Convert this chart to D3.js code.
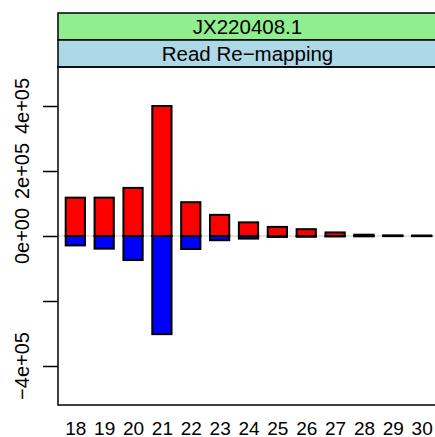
<!DOCTYPE html>
<html>
<head>
<meta charset="utf-8">
<script src="https://cdn.jsdelivr.net/npm/d3@7"></script>
<style>
  html, body { margin: 0; padding: 0; background: #fff; }
  svg { display: block; }
  text { font-family: "Liberation Sans", Arial, Helvetica, sans-serif; }
</style>
</head>
<body>
<script>
// ---- data ----
const sizes = ["18","19","20","21","22","23","24","25","26","27","28","29","30"];
const posCounts = [118000, 118000, 148000, 400000, 104000, 65000, 42000, 28000, 21000, 11000, 4000, 2000, 1500];
const negCounts = [-29000, -39000, -74000, -302000, -40000, -13000, -8000, -3000, -2500, -1500, -1000, -500, -500];
const yTicks = [-400000, -200000, 0, 200000, 400000];
const yTickLabels = ["\u22124e+05", "", "0e+00", "2e+05", "4e+05"];
const stripTop = "JX220408.1";
const stripBottom = "Read Re\u2212mapping";
const posColor = "#FF0000";
const negColor = "#0000FF";

// ---- layout ----
const W = 435, H = 437;
const panel = { left: 58, right: 439, top: 67, bottom: 405 };
const stripH = 27;

const svg = d3.select("body").append("svg").attr("width", W).attr("height", H);

const x = d3.scaleLinear().domain([0.4, sizes.length + 0.6]).range([panel.left, panel.right]);
const y = d3.scaleLinear().domain([-520000, 520000]).range([panel.bottom, panel.top]);
const barW = (x(1) - x(0)) * 2 / 3;

// strips
const strips = [
  { label: stripTop, fill: "#90EE90", y0: panel.top - 2 * stripH },
  { label: stripBottom, fill: "#ADD8E6", y0: panel.top - stripH }
];
const sg = svg.append("g");
sg.selectAll("rect").data(strips).join("rect")
  .attr("x", panel.left).attr("y", d => d.y0)
  .attr("width", panel.right - panel.left).attr("height", stripH)
  .attr("fill", d => d.fill).attr("stroke", "#000").attr("stroke-width", 1.5);
sg.selectAll("text").data(strips).join("text")
  .attr("x", (panel.left + panel.right) / 2 - 1)
  .attr("y", d => d.y0 + stripH / 2 + 7)
  .attr("text-anchor", "middle")
  .attr("font-size", 20.5)
  .text(d => d.label);

// zero reference line
svg.append("line")
  .attr("x1", panel.left).attr("x2", panel.right)
  .attr("y1", y(0)).attr("y2", y(0))
  .attr("stroke", "#E6E6E6").attr("stroke-width", 2);

// bars
const data = sizes.map((s, i) => ({ i: i + 1, s, pos: posCounts[i], neg: negCounts[i] }));
const bars = svg.append("g");
bars.selectAll("rect.pos").data(data).join("rect")
  .attr("class", "pos")
  .attr("x", d => x(d.i) - barW / 2)
  .attr("y", d => y(d.pos))
  .attr("width", barW)
  .attr("height", d => y(0) - y(d.pos))
  .attr("fill", posColor).attr("stroke", "#000").attr("stroke-width", 2);
bars.selectAll("rect.neg").data(data).join("rect")
  .attr("class", "neg")
  .attr("x", d => x(d.i) - barW / 2)
  .attr("y", y(0))
  .attr("width", barW)
  .attr("height", d => y(d.neg) - y(0))
  .attr("fill", negColor).attr("stroke", "#000").attr("stroke-width", 2);

// panel border
svg.append("rect")
  .attr("x", panel.left).attr("y", panel.top)
  .attr("width", panel.right - panel.left).attr("height", panel.bottom - panel.top)
  .attr("fill", "none").attr("stroke", "#000").attr("stroke-width", 1.5);

// left axis
const yAxis = d3.axisLeft(y).tickValues(yTicks).tickSize(15).tickFormat("");
const ya = svg.append("g").attr("transform", `translate(${panel.left},0)`).call(yAxis);
ya.select(".domain").remove();
ya.selectAll(".tick line").attr("stroke", "#000").attr("stroke-width", 1.5);
svg.append("g").selectAll("text").data(yTicks).join("text")
  .attr("transform", (d) => `translate(28.5,${y(d)}) rotate(-90)`)
  .attr("text-anchor", "middle")
  .attr("font-size", 20)
  .text((d, i) => yTickLabels[i]);

// bottom axis labels
const xAxis = d3.axisBottom(x).tickValues(data.map(d => d.i)).tickSize(0)
  .tickFormat((d) => sizes[d - 1]);
const xa = svg.append("g").attr("transform", `translate(0,${panel.bottom})`).call(xAxis);
xa.select(".domain").remove();
xa.selectAll(".tick text")
  .attr("y", 29.5).attr("dy", 0)
  .attr("font-size", 19)
  .attr("font-family", "Liberation Sans, Arial, sans-serif")
  .attr("fill", "#000");
</script>
</body>
</html>
